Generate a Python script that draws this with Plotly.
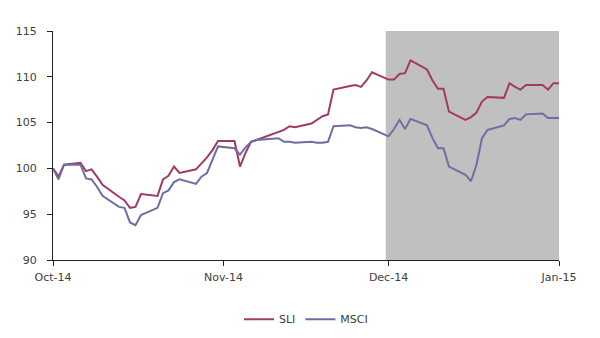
import plotly.graph_objects as go

dates = [
    "2014-10-01", "2014-10-02", "2014-10-03", "2014-10-06", "2014-10-07", "2014-10-08",
    "2014-10-09", "2014-10-10", "2014-10-13", "2014-10-14", "2014-10-15", "2014-10-16",
    "2014-10-17", "2014-10-20", "2014-10-21", "2014-10-22", "2014-10-23", "2014-10-24",
    "2014-10-27", "2014-10-28", "2014-10-29", "2014-10-30", "2014-10-31",
    "2014-11-03", "2014-11-04", "2014-11-05", "2014-11-06", "2014-11-07",
    "2014-11-10", "2014-11-11", "2014-11-12", "2014-11-13", "2014-11-14",
    "2014-11-17", "2014-11-18", "2014-11-19", "2014-11-20", "2014-11-21",
    "2014-11-24", "2014-11-25", "2014-11-26", "2014-11-27", "2014-11-28",
    "2014-12-01", "2014-12-02", "2014-12-03", "2014-12-04", "2014-12-05",
    "2014-12-08", "2014-12-09", "2014-12-10", "2014-12-11", "2014-12-12",
    "2014-12-15", "2014-12-16", "2014-12-17", "2014-12-18", "2014-12-19",
    "2014-12-22", "2014-12-23", "2014-12-24", "2014-12-25", "2014-12-26",
    "2014-12-29", "2014-12-30", "2014-12-31", "2015-01-01",
]

sli = [
    100.0, 99.1, 100.4, 100.6, 99.7, 99.9,
    99.1, 98.2, 96.9, 96.5, 95.7, 95.8,
    97.2, 97.0, 98.8, 99.2, 100.2, 99.5,
    99.9, 100.5, 101.2, 102.0, 103.0,
    103.0, 100.2, 101.7, 102.9, 103.1,
    103.8, 104.0, 104.2, 104.6, 104.5,
    104.9, 105.3, 105.7, 105.9, 108.6,
    109.0, 109.1, 108.9, 109.6, 110.5,
    109.7, 109.7, 110.3, 110.4, 111.8,
    110.8, 109.6, 108.7, 108.7, 106.2,
    105.3, 105.6, 106.1, 107.3, 107.8,
    107.7, 109.3, 108.9, 108.6, 109.1,
    109.1, 108.6, 109.3, 109.3,
]

msci = [
    100.0, 98.8, 100.4, 100.4, 98.9, 98.8,
    98.0, 97.0, 95.8, 95.7, 94.1, 93.8,
    94.9, 95.7, 97.3, 97.6, 98.5, 98.8,
    98.3, 99.1, 99.5, 101.0, 102.4,
    102.2, 101.5, 102.3, 102.9, 103.1,
    103.3, 103.3, 102.9, 102.9, 102.8,
    102.9, 102.8, 102.8, 102.9, 104.6,
    104.7, 104.5, 104.4, 104.5, 104.3,
    103.5, 104.3, 105.3, 104.3, 105.4,
    104.7, 103.3, 102.2, 102.2, 100.2,
    99.3, 98.6, 100.4, 103.3, 104.2,
    104.7, 105.4, 105.5, 105.3, 105.9,
    106.0, 105.5, 105.5, 105.5,
]

shade_start = "2014-11-30 12:00"
shade_end = "2015-01-01"
y_ticks = [90, 95, 100, 105, 110, 115]

fig = go.Figure()
fig.add_trace(go.Scatter(x=dates, y=sli, mode="lines", name="SLI",
                         line=dict(color="#A33A63", width=2)))
fig.add_trace(go.Scatter(x=dates, y=msci, mode="lines", name="MSCI",
                         line=dict(color="#6E6EA3", width=2)))

fig.add_shape(type="rect", xref="x", yref="y", x0=shade_start, x1=shade_end,
              y0=90, y1=115, fillcolor="#C0C0C0", line=dict(width=0), layer="below")

font = dict(family="DejaVu Sans", size=11, color="#404040")
fig.update_layout(
    width=600, height=338,
    margin=dict(l=53, r=41, t=31, b=78, autoexpand=False),
    paper_bgcolor="white", plot_bgcolor="white",
    font=font,
    showlegend=True,
    legend=dict(orientation="h", x=0.5, xanchor="center", y=-0.195, yanchor="top",
                font=dict(family="DejaVu Sans", size=11, color="#404040"),
                itemwidth=30),
    xaxis=dict(range=["2014-10-01", "2015-01-01"], tickformat="%b-%y", dtick="M1",
               tick0="2014-10-01", showgrid=False, zeroline=False, automargin=False,
               showline=True, linecolor="#222222", linewidth=1,
               ticks="outside", ticklen=5, tickcolor="#222222",
               ticklabelstandoff=2),
    yaxis=dict(range=[90, 115], tickvals=y_ticks, showgrid=False, zeroline=False,
               automargin=False,
               showline=True, linecolor="#222222", linewidth=1,
               ticks="outside", ticklen=5, tickcolor="#222222",
               ticklabelstandoff=8),
)

fig.write_html("out.html")
